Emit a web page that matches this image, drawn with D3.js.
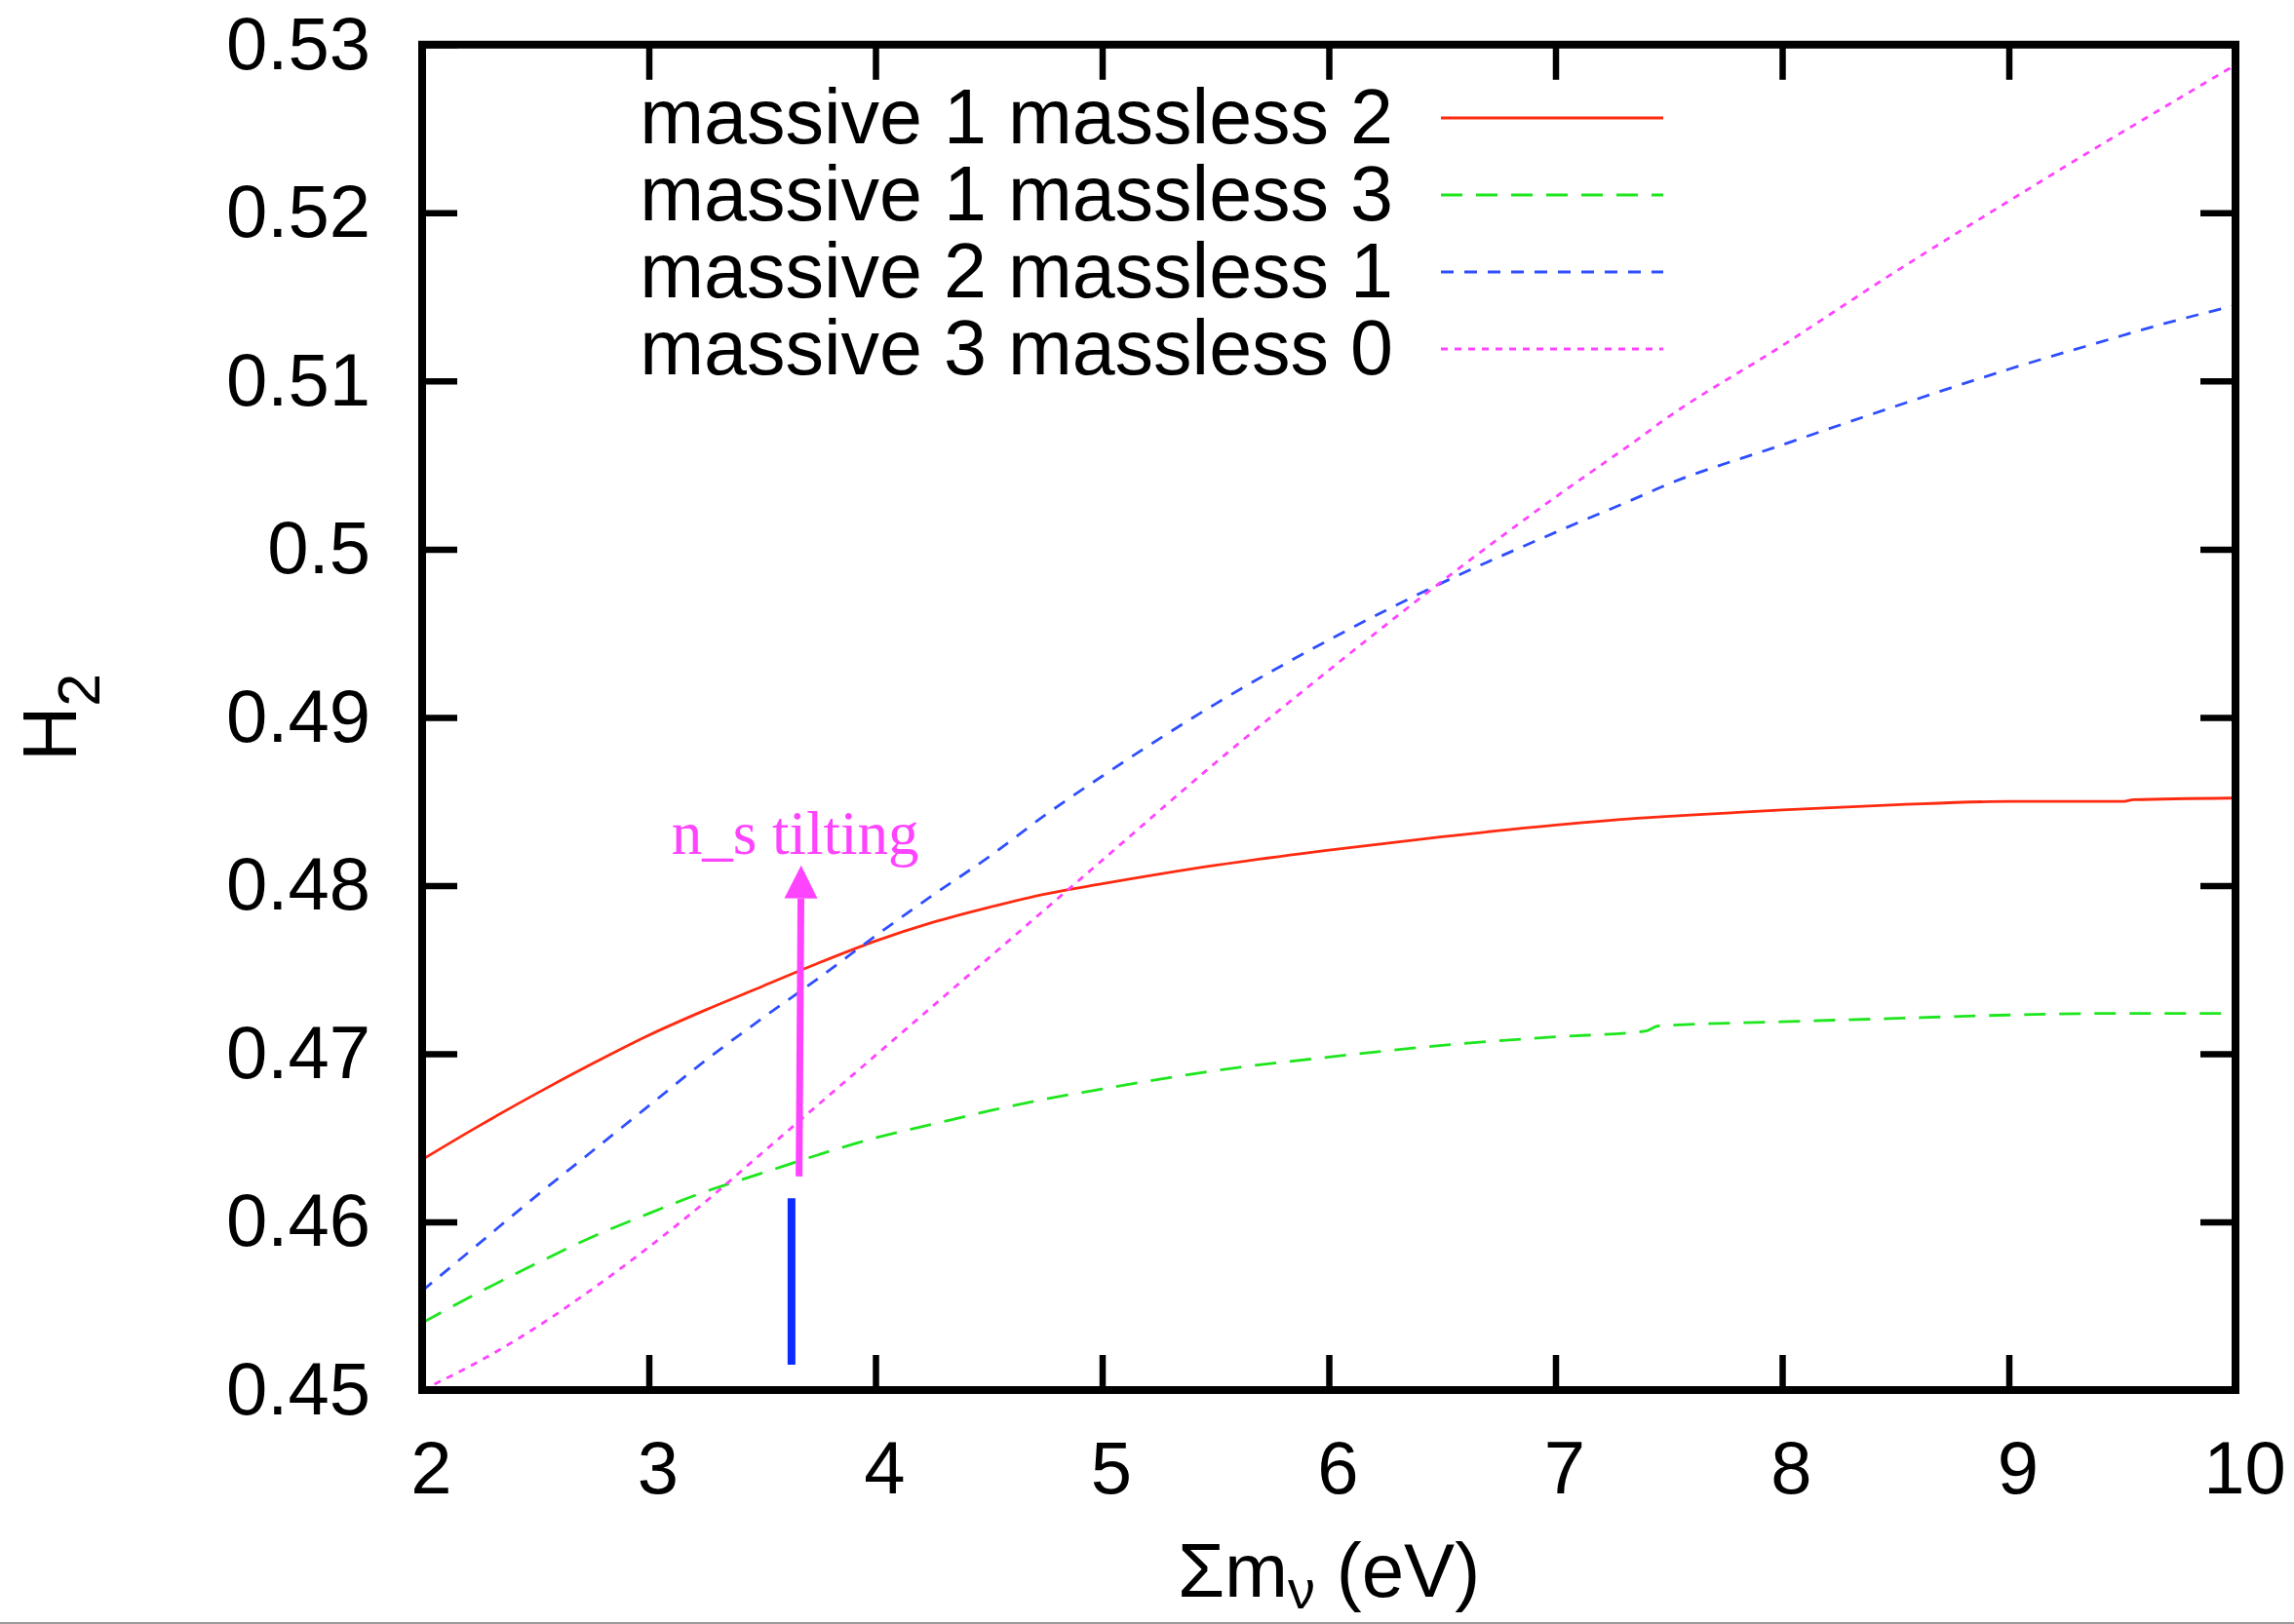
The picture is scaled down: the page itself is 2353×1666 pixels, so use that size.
<!DOCTYPE html>
<html>
<head>
<meta charset="utf-8">
<script src="https://cdn.jsdelivr.net/npm/d3@7/dist/d3.min.js"></script>
<style>
  html, body { margin: 0; padding: 0; background: #ffffff; }
  svg { display: block; }
  .tick text { font-family: "Liberation Sans", Arial, Helvetica, sans-serif; }
</style>
</head>
<body>
<svg id="chart" width="2353" height="1666"></svg>
<script>
// Summed neutrino mass (eV) at which each H2 curve is sampled
const massGrid = [2, 2.25, 2.5, 2.75, 3, 3.25, 3.5, 3.75, 4, 4.25, 4.5, 4.75, 5, 5.5, 6, 6.5, 7, 7.4, 7.45, 8, 8.5, 9, 9.5, 9.55, 10];

// H2 for each massive / massless neutrino split
const h2Massive1Massless2 = [0.4637, 0.4657, 0.4676, 0.4694, 0.4711, 0.4726, 0.4740, 0.4754, 0.4767, 0.4778, 0.4787, 0.4795, 0.4801, 0.4812, 0.4821, 0.4829, 0.4836, 0.48403, 0.48407, 0.4845, 0.4848, 0.4850, 0.4850, 0.4851, 0.4852];
const h2Massive1Massless3 = [0.4540, 0.4558, 0.4575, 0.4591, 0.4605, 0.4618, 0.4629, 0.4640, 0.4650, 0.4658, 0.4666, 0.4673, 0.4679, 0.4690, 0.4698, 0.4705, 0.4710, 0.47135, 0.47164, 0.4719, 0.4721, 0.4723, 0.4724, 0.4724, 0.4724];
const h2Massive2Massless1 = [0.4559, 0.4587, 0.4615, 0.4642, 0.4669, 0.4696, 0.4721, 0.4745, 0.4770, 0.4794, 0.4817, 0.4842, 0.4865, 0.4908, 0.4946, 0.4980, 0.5010, 0.5033, 0.5036, 0.5062, 0.5085, 0.5107, 0.5127, 0.5129, 0.5145];
const h2Massive3Massless0 = [0.4500, 0.4517, 0.4537, 0.4560, 0.4585, 0.4612, 0.4641, 0.4670, 0.4699, 0.4728, 0.4757, 0.4786, 0.4815, 0.4873, 0.4928, 0.4981, 0.5031, 0.5069, 0.5074, 0.5121, 0.5165, 0.5207, 0.5248, 0.5252, 0.5288];

const seriesNames = ["massive 1 massless 2", "massive 1 massless 3", "massive 2 massless 1", "massive 3 massless 0"];
const seriesValues = [h2Massive1Massless2, h2Massive1Massless3, h2Massive2Massless1, h2Massive3Massless0];
const seriesColors = ["#ff2a10", "#1ee61e", "#2f4fff", "#ff44ff"];
const seriesDashes = [null, "22,14", "13,11", "7,7"];

// Tick labels
const xTicks = [2, 3, 4, 5, 6, 7, 8, 9, 10];
const yTicks = [0.45, 0.46, 0.47, 0.48, 0.49, 0.50, 0.51, 0.52, 0.53];
const yTickLabels = ["0.45", "0.46", "0.47", "0.48", "0.49", "0.5", "0.51", "0.52", "0.53"];

// Annotation: n_s tilting arrow and the reference marker below it
const tiltArrowFrom = [3.663, 0.4627];
const tiltArrowTo = [3.672, 0.4812];
const tiltLabel = "n_s tilting";
const tiltLabelAt = [3.646, 0.4819];
const markerFrom = [3.6295, 0.4515];
const markerTo = [3.6295, 0.4614];

(function draw() {
  const svg = d3.select("#chart");
  const plotLeft = 433, plotRight = 2293, plotTop = 45.8, plotBottom = 1426;

  const x = d3.scaleLinear().domain([2, 10]).range([plotLeft, plotRight]);
  const y = d3.scaleLinear().domain([0.45, 0.53]).range([plotBottom, plotTop]);

  const FONT = '"Liberation Sans", Arial, Helvetica, sans-serif';

  // thin grey rule along the bottom edge of the page
  svg.append("rect").attr("x", 0).attr("y", 1664).attr("width", 2353).attr("height", 2).attr("fill", "#9a9a9a");

  // Curves
  const line = d3.line()
    .x((d, i) => x(massGrid[i]))
    .y(d => y(d))
    .curve(d3.curveMonotoneX);

  svg.append("defs").append("clipPath").attr("id", "plotClip")
    .append("rect").attr("x", plotLeft).attr("y", plotTop - 2)
    .attr("width", plotRight - plotLeft).attr("height", plotBottom - plotTop + 4);

  const curves = svg.append("g").attr("clip-path", "url(#plotClip)");
  seriesValues.forEach((vals, k) => {
    curves.append("path")
      .attr("d", line(vals))
      .attr("fill", "none")
      .attr("stroke", seriesColors[k])
      .attr("stroke-width", 2.8)
      .attr("stroke-dasharray", seriesDashes[k])
      .attr("stroke-linecap", "butt");
  });

  // Axes with inward ticks on all four sides
  const tickLen = 36;
  function styleAxis(g) {
    g.select(".domain").remove();
    g.selectAll(".tick line").attr("stroke", "#000").attr("stroke-width", 6.5);
    g.selectAll(".tick text").attr("fill", "#000").style("font-size", "76px");
  }
  svg.append("g").attr("transform", `translate(0,${plotBottom})`)
    .call(d3.axisBottom(x).tickValues(xTicks).tickFormat(d3.format("d")).tickSize(-tickLen).tickPadding(52))
    .call(styleAxis)
    .call(g => g.selectAll(".tick text").attr("dx", 9));
  svg.append("g").attr("transform", `translate(0,${plotTop})`)
    .call(d3.axisTop(x).tickValues(xTicks).tickFormat("").tickSize(-tickLen))
    .call(styleAxis);
  svg.append("g").attr("transform", `translate(${plotLeft},0)`)
    .call(d3.axisLeft(y).tickValues(yTicks).tickFormat((d, i) => yTickLabels[i]).tickSize(-tickLen).tickPadding(53))
    .call(styleAxis);
  svg.append("g").attr("transform", `translate(${plotRight},0)`)
    .call(d3.axisRight(y).tickValues(yTicks).tickFormat("").tickSize(-tickLen))
    .call(styleAxis);

  // Frame
  svg.append("rect")
    .attr("x", plotLeft).attr("y", plotTop)
    .attr("width", plotRight - plotLeft).attr("height", plotBottom - plotTop)
    .attr("fill", "none").attr("stroke", "#000").attr("stroke-width", 8);

  // Legend
  const legend = svg.append("g");
  const legendTextRight = 1429, legendLineX0 = 1478, legendLineX1 = 1706;
  const legendBaseline0 = 147, legendStep = 79;
  seriesNames.forEach((name, k) => {
    const base = legendBaseline0 + k * legendStep;
    legend.append("text")
      .attr("x", legendTextRight).attr("y", base)
      .attr("text-anchor", "end")
      .style("font-family", FONT).style("font-size", "79px")
      .attr("fill", "#000")
      .text(name);
    legend.append("line")
      .attr("x1", legendLineX0).attr("x2", legendLineX1)
      .attr("y1", base - 26).attr("y2", base - 26)
      .attr("stroke", seriesColors[k]).attr("stroke-width", 3)
      .attr("stroke-dasharray", seriesDashes[k]);
  });

  // Reference marker (blue) and n_s tilting arrow (magenta)
  svg.append("line")
    .attr("x1", x(markerFrom[0])).attr("y1", y(markerFrom[1]))
    .attr("x2", x(markerTo[0])).attr("y2", y(markerTo[1]))
    .attr("stroke", "#0b2cff").attr("stroke-width", 8);

  const ax0 = x(tiltArrowFrom[0]), ay0 = y(tiltArrowFrom[1]);
  const ax1 = x(tiltArrowTo[0]), ay1 = y(tiltArrowTo[1]);
  const len = Math.hypot(ax1 - ax0, ay1 - ay0);
  const ux = (ax1 - ax0) / len, uy = (ay1 - ay0) / len;
  const headLen = 34, headHalf = 17;
  const bx = ax1 - ux * headLen, by = ay1 - uy * headLen;
  svg.append("line")
    .attr("x1", ax0).attr("y1", ay0).attr("x2", bx).attr("y2", by)
    .attr("stroke", "#ff44ff").attr("stroke-width", 7);
  svg.append("path")
    .attr("d", `M${ax1},${ay1} L${bx - uy * headHalf},${by + ux * headHalf} L${bx + uy * headHalf},${by - ux * headHalf} Z`)
    .attr("fill", "#ff44ff");

  svg.append("text")
    .attr("x", x(tiltLabelAt[0])).attr("y", y(tiltLabelAt[1]))
    .attr("text-anchor", "middle")
    .style("font-family", '"Liberation Serif", "Times New Roman", Times, serif')
    .style("font-size", "63px")
    .attr("fill", "#ff44ff")
    .text(tiltLabel);

  // Axis titles
  const xTitle = svg.append("text")
    .attr("x", (plotLeft + plotRight) / 2).attr("y", 1638)
    .attr("text-anchor", "middle")
    .style("font-family", FONT).style("font-size", "78px")
    .attr("fill", "#000");
  xTitle.append("tspan").text("Σm");
  xTitle.append("tspan").attr("dy", 12).style("font-size", "56px").text("ν");
  xTitle.append("tspan").attr("dy", -12).text(" (eV)");

  const yTitle = svg.append("text")
    .attr("transform", `translate(78,${(plotTop + plotBottom) / 2}) rotate(-90)`)
    .attr("text-anchor", "middle")
    .style("font-family", FONT).style("font-size", "78px")
    .attr("fill", "#000");
  yTitle.append("tspan").text("H");
  yTitle.append("tspan").attr("dy", 24).style("font-size", "61px").text("2");
})();
</script>
</body>
</html>
